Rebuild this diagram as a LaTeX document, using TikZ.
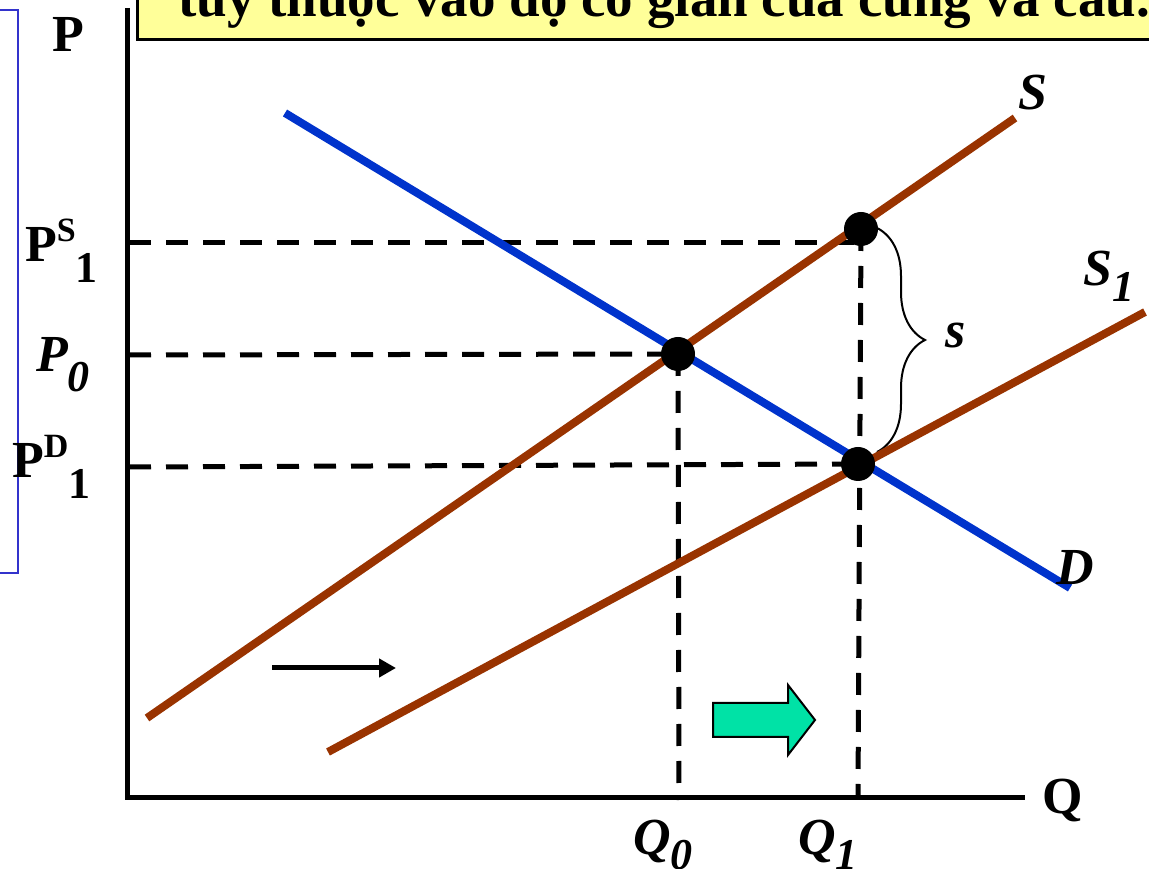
\documentclass[tikz,border=0pt]{standalone}
\usepackage{fontspec}
\setmainfont{Liberation Serif}
\usetikzlibrary{arrows.meta,positioning,calc,decorations.pathreplacing}
\definecolor{supbrown}{RGB}{153,51,0}
\definecolor{demblue}{RGB}{0,51,204}
\definecolor{boxyellow}{RGB}{255,255,153}
\definecolor{frameblue}{RGB}{51,51,204}
\definecolor{shiftgreen}{RGB}{0,226,166}
\newcommand{\bigfnt}{\fontsize{52}{56}\selectfont\bfseries}
\newcommand{\lowsub}[2][0.3em]{\raisebox{-#1}{\fontsize{44}{46}\selectfont #2}}
\newcommand{\highsup}[1]{\raisebox{0.4em}{\fontsize{34}{36}\selectfont #1}}

\begin{document}
\begin{tikzpicture}[x=1pt,y=1pt,
  curve/.style={line width=8pt},
  guide/.style={line width=5pt,dash pattern=on 22pt off 15pt},
  eqdot/.style={circle,fill=black,minimum size=34pt,inner sep=0pt},
  lbl/.style={font=\bigfnt,inner sep=0pt,anchor=base west}]
\useasboundingbox (0,0) rectangle (1149,868);
% frame pieces at the edges
\draw[frameblue,line width=2pt] (-20,858) rectangle (18,295);
\draw[fill=boxyellow,line width=3pt] (137,828) rectangle (1170,910);
\node[anchor=base west,inner sep=0pt,font=\fontsize{55}{60}\selectfont\bfseries] (title) at (178,851) {tùy thuộc vào độ co giãn của cung và cầu.};
% equilibrium points
\coordinate (E0) at (678,514);\coordinate (A) at (861,639);\coordinate (B) at (858,404);
\draw[guide] (129,625) -- (A|-0,625);\draw[guide] (129,513) -- (E0);\draw[guide] (129,401) -- (B);
\draw[guide] (E0) -- (679,68);\draw[guide] (A) -- (858,71);
% brace for the subsidy
\draw[line width=2pt,decorate,decoration={brace,amplitude=48pt}] (877,640) -- (877,416);
\node[lbl,font=\bigfnt\itshape] (s) at (945,520) {s};
% curves
\coordinate (Dhi) at (285,755);\coordinate (Dlo) at (1070,280);
\coordinate (Slo) at (147,150);\coordinate (Shi) at (1015,750);
\coordinate (S1lo) at (328,116);\coordinate (S1hi) at (1145,556);
\draw[curve,demblue] (Dhi) -- (Dlo);\draw[curve,supbrown] (Slo) -- (Shi);\draw[curve,supbrown] (S1lo) -- (S1hi);
\node[eqdot] (dotE0) at (E0) {};\node[eqdot] (dotA) at (A) {};\node[eqdot] (dotB) at (B) {};
% axes
\draw[line width=5pt] (127,860) -- (127,71) -- (1025,71);
\node[lbl] (P) at (52,816) {P};\node[lbl] (Q) at (1042,55) {Q};
\node[lbl] (PS1) at (25,606) {P\highsup{S}\lowsub[0.4em]{1}};
\node[lbl,font=\bigfnt\itshape] (P0) at (36,496) {P\lowsub[0.38em]{0}};
\node[lbl] (PD1) at (12,390) {P\highsup{D}\lowsub[0.4em]{1}};
\node[lbl,font=\bigfnt\itshape] (Q0) at (633,14) {Q\lowsub{0}};
\node[lbl,font=\bigfnt\itshape] (Q1) at (798,14) {Q\lowsub{1}};
\node[lbl,font=\bigfnt\itshape] (Slab) at (1018,758) {S};
\node[lbl,font=\bigfnt\itshape] (S1lab) at (1083,582) {S\lowsub{1}};
\node[lbl,font=\bigfnt\itshape] (Dlab) at (1056,283) {D};
% shift arrows
\coordinate (sh1) at (272,200);\coordinate (sh2) at (396,200);
\draw[line width=5pt,-{Triangle[length=17pt,width=18pt]}] (sh1) -- (sh2);
\draw[fill=shiftgreen,line width=2pt] (713,165) -- (788,165) -- (788,183) -- (815,148) -- (788,113) -- (788,131) -- (713,131) -- cycle;
\end{tikzpicture}
\end{document}
